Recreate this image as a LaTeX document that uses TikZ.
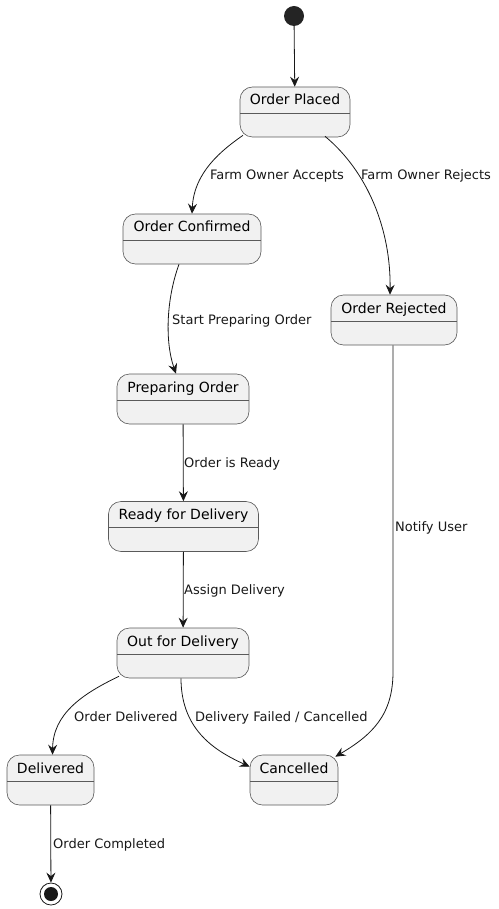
\documentclass[tikz,border=0pt]{standalone}
\usepackage{fontspec}
\setmainfont{DejaVu Sans}
\usetikzlibrary{arrows.meta}
\definecolor{stategray}{HTML}{F1F1F1}
\definecolor{bordergray}{HTML}{5A5A5A}
\definecolor{linedark}{HTML}{181818}

\begin{document}
\begin{tikzpicture}[x=1pt,y=-1pt,
  state/.style={draw=bordergray,line width=0.6pt,fill=stategray,rounded corners=12.5pt,
    inner sep=0pt,minimum height=50pt,text height=18pt,text depth=32pt,
    font=\fontsize{14}{16}\selectfont,
    path picture={\draw[bordergray,line width=0.6pt]
      ([yshift=-26pt]path picture bounding box.north west) --
      ([yshift=-26pt]path picture bounding box.north east);}},
  trans/.style={draw=linedark,line width=0.8pt,-{Stealth[length=10pt,width=9pt,inset=3.5pt]}},
  lbl/.style={font=\fontsize{13}{15}\selectfont,inner sep=0pt,text=linedark}]
  \useasboundingbox (0,0) rectangle (498,909);
  \node[circle,fill=linedark!95,minimum size=20pt,inner sep=0pt] (start) at (294,16) {};
  \node[state,minimum width=110pt] (placed) at (295,112) {Order Placed};
  \node[state,minimum width=138pt] (confirmed) at (192,239) {Order Confirmed};
  \node[state,minimum width=126pt] (rejected) at (394,320) {Order Rejected};
  \node[state,minimum width=132pt] (preparing) at (183,399) {Preparing Order};
  \node[state,minimum width=150pt] (ready) at (183.5,526.5) {Ready for Delivery};
  \node[state,minimum width=132pt] (out) at (183,653) {Out for Delivery};
  \node[state,minimum width=87pt] (delivered) at (50.5,780) {Delivered};
  \node[state,minimum width=88pt] (cancelled) at (294,780) {Cancelled};
  \node[circle,draw=linedark,line width=0.8pt,fill=white,minimum size=22pt,inner sep=0pt] (finish) at (51,894) {};
  \fill[linedark] (finish.center) circle (7pt);
  \draw[trans] (start) -- (placed);
  \draw[trans] ([xshift=-52pt,yshift=2pt]placed.south) .. controls (222,150) and (194,172) .. (confirmed.north);
  \draw (277,180) node[lbl,anchor=base] {Farm Owner Accepts};
  \draw[trans] ([xshift=30pt,yshift=1pt]placed.south) .. controls (368,172) and (391,230) .. ([xshift=-4pt]rejected.north);
  \draw (426,180) node[lbl,anchor=base] {Farm Owner Rejects};
  \draw[trans] ([xshift=-13pt]confirmed.south) .. controls (166,300) and (165,342) .. ([xshift=-7pt]preparing.north);
  \draw (172,324) node[lbl,anchor=base west] {Start Preparing Order};
  \draw[trans] (preparing) -- (ready);
  \draw (184,467) node[lbl,anchor=base west] {Order is Ready};
  \draw[trans] (ready) -- (out);
  \draw (184,594) node[lbl,anchor=base west] {Assign Delivery};
  \draw[trans] ([xshift=-1pt]rejected.south) -- (393,672) .. controls (393,715) and (372,735) .. ([xshift=-3pt,yshift=-2pt]cancelled.north east);
  \draw (395,531) node[lbl,anchor=base west] {Notify User};
  \draw[trans] ([xshift=-64pt,yshift=2pt]out.south) .. controls (82,694) and (53,714) .. ([xshift=2pt]delivered.north);
  \draw (74,721) node[lbl,anchor=base west] {Order Delivered};
  \draw[trans] ([xshift=-2pt]out.south) .. controls (181,732) and (218,752) .. ([yshift=-12pt]cancelled.north west);
  \draw (195,721) node[lbl,anchor=base west] {Delivery Failed / Cancelled};
  \draw[trans] (delivered) -- (finish);
  \draw (53,848) node[lbl,anchor=base west] {Order Completed};
\end{tikzpicture}
\end{document}
